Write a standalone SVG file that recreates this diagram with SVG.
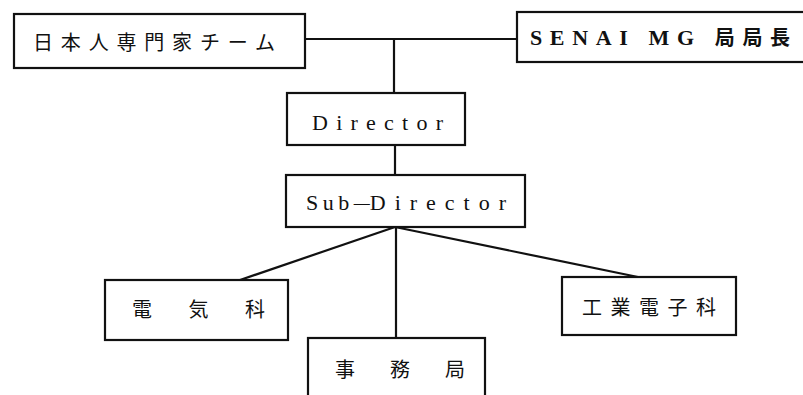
<svg xmlns="http://www.w3.org/2000/svg" width="803" height="395" viewBox="0 0 803 395">
<style>
.box{fill:#fff;stroke:#111;stroke-width:2.2}
.ln{stroke:#111;stroke-width:2.2;fill:none}
.jp{font-family:"Noto Sans CJK JP","Noto Sans",sans-serif;font-size:20px;fill:#111}
.en{font-family:"Liberation Serif","DejaVu Serif",serif;font-size:22px;fill:#111}
</style>
<rect width="803" height="395" fill="#fff"/>
<g id="connectors">
<line class="ln" x1="305" y1="39" x2="517" y2="39"/>
<line class="ln" x1="394" y1="39" x2="394" y2="93"/>
<line class="ln" x1="395" y1="145" x2="395" y2="175"/>
<line class="ln" x1="395" y1="227" x2="240" y2="280"/>
<line class="ln" x1="395" y1="227" x2="638" y2="277"/>
<line class="ln" x1="396" y1="227" x2="396" y2="338"/>
</g>
<g id="n-japan">
<rect class="box" x="14" y="14" width="291" height="54"/>
<text class="jp" x="33" y="50" textLength="242" lengthAdjust="spacing">日本人専門家チーム</text>
</g>
<g id="n-senai">
<rect class="box" x="517" y="12" width="300" height="50"/>
<text class="en" x="530" y="45" textLength="260" lengthAdjust="spacing" font-weight="bold">SENAI  MG <tspan class="jp" font-size="20">局局長</tspan></text>
</g>
<g id="n-director">
<rect class="box" x="287" y="93" width="178" height="52"/>
<text class="en" x="312" y="130" textLength="131" lengthAdjust="spacing">Director</text>
</g>
<g id="n-subdirector">
<rect class="box" x="286" y="175" width="239" height="52"/>
<text class="en" x="306" y="210" letter-spacing="4.5">Sub<tspan letter-spacing="0" font-size="16" dy="-2">—</tspan><tspan letter-spacing="9" dy="2">Director</tspan></text>
</g>
<g id="n-denki">
<rect class="box" x="105" y="280" width="183" height="60"/>
<text class="jp" x="132" y="317" textLength="133" lengthAdjust="spacing">電気科</text>
</g>
<g id="n-jimu">
<rect class="box" x="308" y="338" width="177" height="80"/>
<text class="jp" x="335" y="377" textLength="130" lengthAdjust="spacing">事務局</text>
</g>
<g id="n-kogyo">
<rect class="box" x="562" y="277" width="174" height="58"/>
<text class="jp" x="582" y="315" textLength="134" lengthAdjust="spacing">工業電子科</text>
</g>
</svg>
